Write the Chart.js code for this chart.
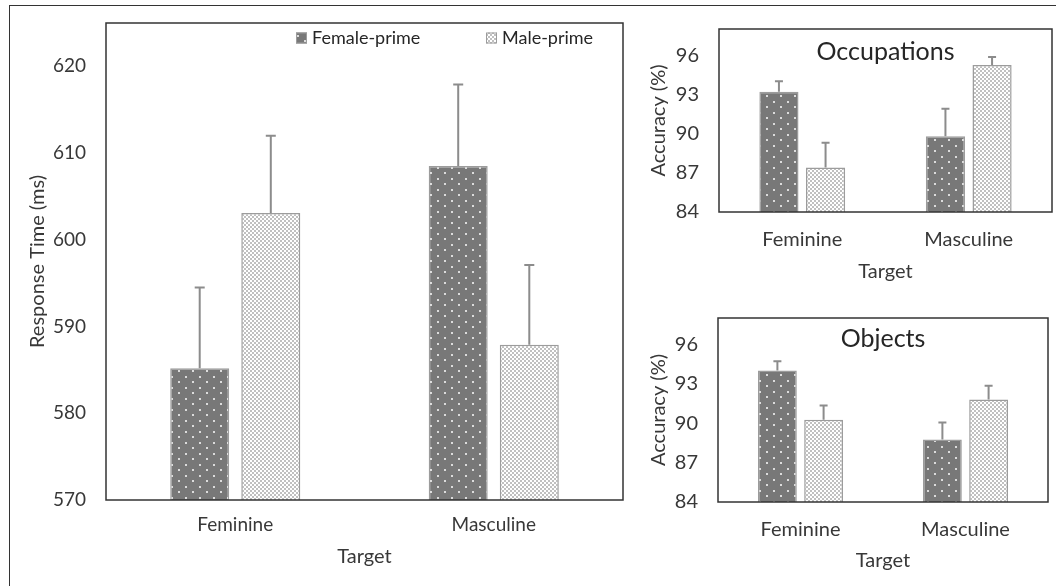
<!DOCTYPE html>
<html>
<head>
<meta charset="utf-8">
<script src="https://cdn.jsdelivr.net/npm/chart.js@4.4.1/dist/chart.umd.min.js"></script>
<style>
    body { margin: 0; background: #fff; width: 1056px; height: 586px; overflow: hidden; position: relative; }
    #frame { position: absolute; left: 9px; top: 5px; width: 1100px; height: 700px; border-left: 1.5px solid #333; border-top: 1.5px solid #333; }
    canvas { position: absolute; }
</style>
</head>
<body>
<div id="frame"></div>
<canvas id="rtChart" width="640" height="586" style="left:0;top:0;width:640px;height:586px"></canvas>
<canvas id="occChart" width="426" height="290" style="left:630px;top:0;width:426px;height:290px"></canvas>
<canvas id="objChart" width="426" height="296" style="left:630px;top:290px;width:426px;height:296px"></canvas>
<script>
// Data
const targets = ['Feminine', 'Masculine'];
const seriesNames = ['Female-prime', 'Male-prime'];

const rtFemalePrime = [585.2, 608.5];
const rtMalePrime = [603.1, 587.9];
const rtFemaleErr = [9.3, 9.4];
const rtMaleErr = [8.9, 9.2];
const rtTicks = [570, 580, 590, 600, 610, 620];

const occFemalePrime = [93.2, 89.8];
const occMalePrime = [87.4, 95.25];
const occFemaleErr = [0.8, 2.1];
const occMaleErr = [1.9, 0.6];

const objFemalePrime = [94.0, 88.75];
const objMalePrime = [90.25, 91.8];
const objFemaleErr = [0.7, 1.3];
const objMaleErr = [1.1, 1.05];
const accTicks = [84, 87, 90, 93, 96];

const FONT = 'Lato';
const TEXT = '#383838';
Chart.defaults.font.family = FONT;
Chart.defaults.color = TEXT;

function femalePattern(ctx) {
    const c = document.createElement('canvas');
    c.width = 14; c.height = 11;
    const g = c.getContext('2d');
    g.fillStyle = '#787878';
    g.fillRect(0, 0, 14, 11);
    g.fillStyle = '#dcdcdc';
    g.fillRect(3, 2, 2, 2);
    g.fillRect(10, 7, 2, 2);
    return ctx.createPattern(c, 'repeat');
}

function malePattern(ctx) {
    const c = document.createElement('canvas');
    c.width = 4; c.height = 4;
    const g = c.getContext('2d');
    g.fillStyle = '#ffffff';
    g.fillRect(0, 0, 4, 4);
    g.fillStyle = '#c0c0c0';
    g.fillRect(0, 0, 2, 2);
    g.fillRect(2, 2, 2, 2);
    return ctx.createPattern(c, 'repeat');
}

// draws the upper error bars
const errorBars = {
    id: 'errorBars',
    afterDatasetsDraw(chart, args, opts) {
        const ctx = chart.ctx;
        const yScale = chart.scales.y;
        ctx.save();
        ctx.strokeStyle = '#8c8c8c';
        ctx.lineWidth = 2;
        chart.data.datasets.forEach((ds, di) => {
            const meta = chart.getDatasetMeta(di);
            meta.data.forEach((bar, i) => {
                const top = yScale.getPixelForValue(ds.data[i] + ds.err[i]);
                ctx.beginPath();
                ctx.moveTo(bar.x, bar.y);
                ctx.lineTo(bar.x, top);
                ctx.moveTo(bar.x - opts.cap / 2, top);
                ctx.lineTo(bar.x + opts.cap / 2, top);
                ctx.stroke();
            });
        });
        ctx.restore();
    }
};

// frame around the plot area and optional title inside it
const plotBox = {
    id: 'plotBox',
    afterDraw(chart, args, opts) {
        const { ctx, chartArea: a } = chart;
        ctx.save();
        ctx.strokeStyle = '#333';
        ctx.lineWidth = 1.5;
        ctx.strokeRect(a.left, a.top, a.right - a.left, a.bottom - a.top);
        if (opts.title) {
            ctx.fillStyle = '#262626';
            ctx.font = opts.size + 'px ' + FONT;
            ctx.textAlign = 'center';
            ctx.textBaseline = 'middle';
            ctx.fillText(opts.title, (a.left + a.right) / 2, a.top + opts.offset);
        }
        ctx.restore();
    }
};

// legend sitting inside the big chart's plot area
const innerLegend = {
    id: 'innerLegend',
    afterDraw(chart, args, opts) {
        if (!opts.items) return;
        const ctx = chart.ctx;
        ctx.save();
        ctx.font = opts.size + 'px ' + FONT;
        ctx.textBaseline = 'middle';
        ctx.textAlign = 'left';
        opts.items.forEach((it, i) => {
            const ds = chart.data.datasets[i];
            ctx.fillStyle = ds.backgroundColor;
            ctx.fillRect(it.x, opts.y - 5.5, 11, 11);
            ctx.strokeStyle = ds.borderColor;
            ctx.lineWidth = 1;
            ctx.strokeRect(it.x + 0.5, opts.y - 5, 10, 10);
            ctx.fillStyle = '#262626';
            ctx.fillText(ds.label, it.x + 16, opts.y);
        });
        ctx.restore();
    }
};

function makeChart(id, cfg) {
    const ctx = document.getElementById(id).getContext('2d');
    return new Chart(ctx, {
        type: 'bar',
        data: {
            labels: targets,
            datasets: [
                {
                    label: seriesNames[0],
                    data: cfg.female,
                    err: cfg.femaleErr,
                    backgroundColor: femalePattern(ctx),
                    borderColor: '#9c9c9c',
                    borderWidth: 1.5,
                    categoryPercentage: cfg.catPct,
                    barPercentage: cfg.barPct
                },
                {
                    label: seriesNames[1],
                    data: cfg.male,
                    err: cfg.maleErr,
                    backgroundColor: malePattern(ctx),
                    borderColor: '#9c9c9c',
                    borderWidth: 1.5,
                    categoryPercentage: cfg.catPct,
                    barPercentage: cfg.barPct
                }
            ]
        },
        options: {
            responsive: false,
            animation: false,
            layout: { padding: cfg.padding },
            plugins: {
                legend: { display: false },
                tooltip: { enabled: false },
                errorBars: { cap: cfg.cap },
                plotBox: cfg.box,
                innerLegend: cfg.legend || {}
            },
            scales: {
                x: {
                    grid: { display: false, drawTicks: false },
                    border: { display: false },
                    ticks: { font: { size: cfg.tickSize }, padding: cfg.xTickPad, color: TEXT },
                    title: { display: true, text: 'Target', font: { size: cfg.titleSize }, color: TEXT, padding: { top: 0, bottom: cfg.xTitlePad } },
                    afterFit: (s) => { s.height = cfg.xHeight; s.paddingLeft = 0; s.paddingRight = 0; }
                },
                y: {
                    min: cfg.min,
                    max: cfg.max,
                    grid: { display: false, drawTicks: false },
                    border: { display: false },
                    afterBuildTicks: (s) => { s.ticks = cfg.ticks.map(v => ({ value: v })); },
                    ticks: { font: { size: cfg.tickSize }, padding: cfg.yTickPad, color: TEXT },
                    title: { display: true, text: cfg.yTitle, font: { size: cfg.titleSize }, color: TEXT, padding: { top: cfg.yTitlePad, bottom: 0 } },
                    afterFit: (s) => { s.width = cfg.yWidth; s.paddingTop = 0; s.paddingBottom = 0; }
                }
            }
        },
        plugins: [errorBars, plotBox, innerLegend]
    });
}

makeChart('rtChart', {
    female: rtFemalePrime, male: rtMalePrime,
    femaleErr: rtFemaleErr, maleErr: rtMaleErr,
    min: 570, max: 625, ticks: rtTicks,
    yTitle: 'Response Time (ms)',
    padding: { left: 0, top: 23, right: 17, bottom: 0 },
    yWidth: 106, xHeight: 86,
    catPct: 0.55, barPct: 0.83, cap: 10,
    tickSize: 19, titleSize: 20,
    xTickPad: 13, yTickPad: 20, xTitlePad: 17, yTitlePad: 26,
    box: {},
    legend: { size: 18, y: 38, items: [{ x: 296 }, { x: 486 }] }
});

makeChart('occChart', {
    female: occFemalePrime, male: occMalePrime,
    femaleErr: occFemaleErr, maleErr: occMaleErr,
    min: 84, max: 98, ticks: accTicks,
    yTitle: 'Accuracy (%)',
    padding: { left: 0, top: 29, right: 4, bottom: 0 },
    yWidth: 89, xHeight: 78,
    catPct: 0.56, barPct: 0.84, cap: 8,
    tickSize: 20, titleSize: 20,
    xTickPad: 16, yTickPad: 20, xTitlePad: 6, yTitlePad: 17,
    box: { title: 'Occupations', size: 25, offset: 23 }
});

makeChart('objChart', {
    female: objFemalePrime, male: objMalePrime,
    femaleErr: objFemaleErr, maleErr: objMaleErr,
    min: 84, max: 98, ticks: accTicks,
    yTitle: 'Accuracy (%)',
    padding: { left: 0, top: 28, right: 8, bottom: 0 },
    yWidth: 88, xHeight: 84,
    catPct: 0.56, barPct: 0.84, cap: 8,
    tickSize: 20, titleSize: 20,
    xTickPad: 16, yTickPad: 20, xTitlePad: 13, yTitlePad: 17,
    box: { title: 'Objects', size: 25, offset: 21 }
});
</script>
</body>
</html>
